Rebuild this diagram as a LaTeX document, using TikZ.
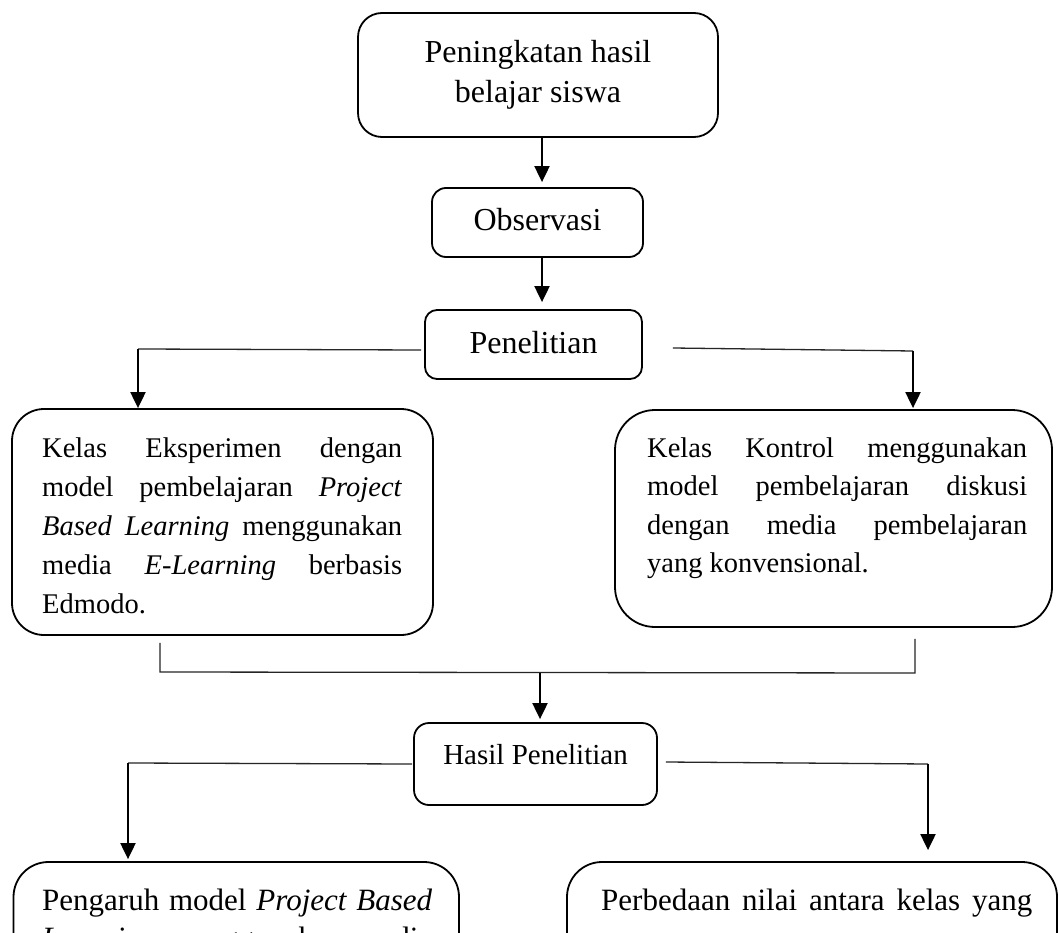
\documentclass[tikz,border=0pt]{standalone}
\usepackage{fontspec}
\setmainfont{Liberation Serif}
\usetikzlibrary{arrows.meta,calc}

% one line of a justified paragraph, stretched to the given width
\newcommand{\fitline}[2]{\makebox[#1][s]{#2}}

\begin{document}
\begin{tikzpicture}[x=1pt,y=-1pt,
  box/.style={draw, line width=1.8pt, rounded corners=#1, inner sep=0pt},
  box/.default=12pt,
  link/.style={line width=1.3pt, draw=black!85},
  arrowline/.style={line width=2pt, -{Triangle[length=16pt,width=15pt]}},
  body/.style={anchor=base west, inner sep=0pt},
]
\useasboundingbox (0,0) rectangle (1059,933);
\fill[white] (0,0) rectangle (1059,933);
\clip (0,0) rectangle (1059,933);

% upper chain
\node[box=24pt, minimum width=360pt, minimum height=124pt,
      font=\fontsize{32}{40}\selectfont, align=center] (top) at (538,75)
  {Peningkatan hasil\\belajar siswa};
\node[box=14pt, minimum width=211pt, minimum height=69pt,
      font=\fontsize{32}{40}\selectfont, text height=22pt, text depth=7pt] (obs) at (537.5,222.5)
  {Observasi};
\node[box=12pt, minimum width=217pt, minimum height=69pt,
      font=\fontsize{32}{40}\selectfont, text height=22pt, text depth=5pt] (pen) at (533.5,344.5)
  {Penelitian};

% the two classes
\node[box=32pt, minimum width=421pt, minimum height=226pt] (eks) at (222.5,522) {};
\node[body, font=\fontsize{28.5}{39}\selectfont] (eksText) at (42,457) {\parbox[t]{360pt}{%
  \fitline{360pt}{Kelas Eksperimen dengan}\\
  \fitline{360pt}{model pembelajaran \textit{Project}}\\
  \fitline{360pt}{\textit{Based Learning} menggunakan}\\
  \fitline{360pt}{media \textit{E-Learning} berbasis}\\
  Edmodo.}};

\node[box=40pt, minimum width=437pt, minimum height=217pt] (kon) at (833.5,518.5) {};
\node[body, font=\fontsize{28.5}{38.5}\selectfont] (konText) at (647,457) {\parbox[t]{380pt}{%
  \fitline{380pt}{Kelas Kontrol menggunakan}\\
  \fitline{380pt}{model pembelajaran diskusi}\\
  \fitline{380pt}{dengan media pembelajaran}\\
  yang konvensional.}};

% results
\node[box=15pt, minimum width=243pt, minimum height=82pt,
      font=\fontsize{29}{35}\selectfont, text height=20pt, text depth=20pt] (hasil) at (535.5,764)
  {Hasil Penelitian};

\node[box=35pt, minimum width=445.5pt, minimum height=250pt] (pengaruh) at (236.25,987) {};
\node[body, font=\fontsize{31}{38}\selectfont] (pengaruhText) at (42,910) {\parbox[t]{390pt}{%
  \fitline{390pt}{Pengaruh model \textit{Project Based}}\\
  \fitline{390pt}{\textit{Learning} menggunakan media}}};

\node[box=35pt, minimum width=490pt, minimum height=250pt] (beda) at (812,987) {};
\node[body, font=\fontsize{31}{38}\selectfont] (bedaText) at (601,910) {\parbox[t]{431pt}{%
  \fitline{431pt}{Perbedaan nilai antara kelas yang}}};

% column positions of the connectors
\coordinate (ax) at (542,0);
\coordinate (pl) at (138,349);
\coordinate (pr) at (913,351);
\coordinate (jl) at (160,672);
\coordinate (jr) at (915,673);
\coordinate (jm) at (540,673);
\coordinate (hl) at (128,763);
\coordinate (hr) at (928,764);

% connectors
\draw[arrowline, shorten >=5pt] (top.south -| ax) -- (obs.north -| ax);
\draw[arrowline, shorten >=7pt] (obs.south -| ax) -- (pen.north -| ax);

\draw[link] ($(pen.west)+(-3,5.5)$) -- (pl);
\draw[arrowline] (pl) -- (eks.north -| pl);
\draw[link] ($(pen.east)+(30,3.5)$) -- (pr);
\draw[arrowline, shorten >=1pt] (pr) -- (kon.north -| pr);

\draw[link] ($(eks.south -| jl)+(0,7)$) -- (jl) -- (jr) -- ($(kon.south -| jr)+(0,11)$);
\draw[arrowline, shorten >=3pt] (jm) -- (hasil.north -| jm);

\draw[link] ($(hasil.west)+(-1,0)$) -- (hl);
\draw[arrowline, shorten >=2pt] (hl) -- (pengaruh.north -| hl);
\draw[link] ($(hasil.east)+(8,-2)$) -- (hr);
\draw[arrowline, shorten >=11pt] (hr) -- (beda.north -| hr);
\end{tikzpicture}
\end{document}
